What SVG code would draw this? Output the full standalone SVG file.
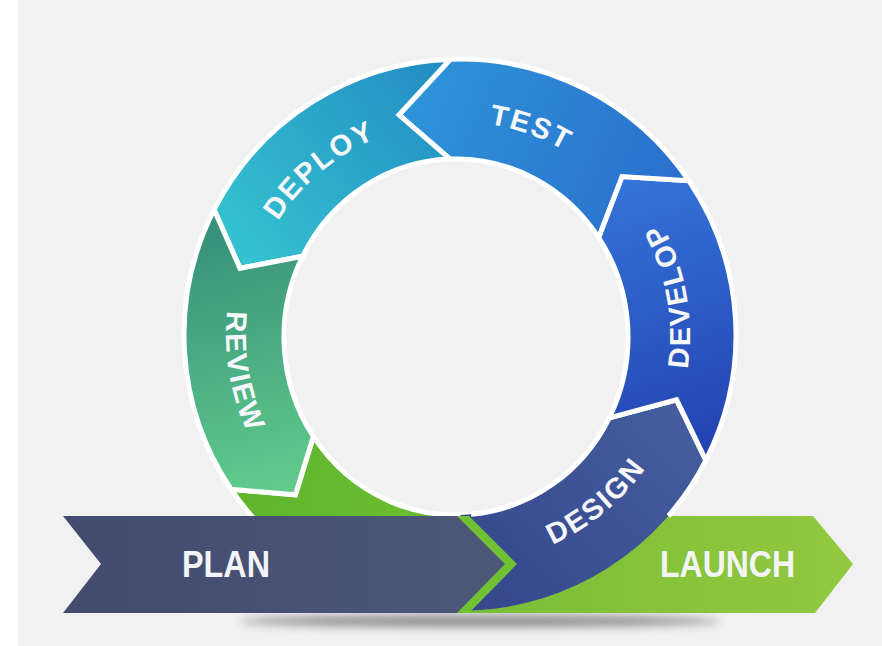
<svg xmlns="http://www.w3.org/2000/svg" width="882" height="646" viewBox="0 0 882 646">
<defs>
<style>
.seg{stroke:#ffffff;stroke-width:5;stroke-linejoin:miter}
.lbl{font-family:"Liberation Sans","DejaVu Sans",Arial,sans-serif;font-weight:bold;font-size:29px;fill:#f5f7fa;letter-spacing:2px}
.band{font-family:"Liberation Sans","DejaVu Sans",Arial,sans-serif;font-weight:bold;font-size:36px;fill:#f3f4f6}
</style>
<linearGradient id="gTest" gradientUnits="userSpaceOnUse" x1="400" y1="100" x2="690" y2="220"><stop offset="0" stop-color="#2e95d9"/><stop offset="1" stop-color="#2a6ccb"/></linearGradient>
<linearGradient id="gDeploy" gradientUnits="userSpaceOnUse" x1="440" y1="80" x2="230" y2="260"><stop offset="0" stop-color="#238fc4"/><stop offset="1" stop-color="#36c4d0"/></linearGradient>
<linearGradient id="gReview" gradientUnits="userSpaceOnUse" x1="220" y1="230" x2="290" y2="490"><stop offset="0" stop-color="#38917a"/><stop offset="1" stop-color="#61cc8c"/></linearGradient>
<linearGradient id="gDevelop" gradientUnits="userSpaceOnUse" x1="620" y1="190" x2="700" y2="450"><stop offset="0" stop-color="#3372d6"/><stop offset="1" stop-color="#2443b2"/></linearGradient>
<linearGradient id="gDesign" gradientUnits="userSpaceOnUse" x1="680" y1="420" x2="480" y2="600"><stop offset="0" stop-color="#435d9e"/><stop offset="1" stop-color="#36478c"/></linearGradient>
<linearGradient id="gPlan" gradientUnits="userSpaceOnUse" x1="63" y1="0" x2="505" y2="0"><stop offset="0" stop-color="#434b6e"/><stop offset="1" stop-color="#4d5879"/></linearGradient>
<linearGradient id="gGreen" gradientUnits="userSpaceOnUse" x1="240" y1="480" x2="480" y2="520"><stop offset="0" stop-color="#5fb52e"/><stop offset="1" stop-color="#6fc031"/></linearGradient>
<linearGradient id="gLaunch" gradientUnits="userSpaceOnUse" x1="460" y1="0" x2="853" y2="0"><stop offset="0" stop-color="#78bd36"/><stop offset="1" stop-color="#92c940"/></linearGradient>
<filter id="blur" x="-20%" y="-200%" width="140%" height="500%"><feGaussianBlur stdDeviation="5"/></filter>
<path id="pTest" d="M 383.1,135.6 A 213 213 0 0 1 641.3,226.6"/>
<path id="pDeploy" d="M 248.2,298 A 213 213 0 0 1 458,122"/>
<path id="pDevelop" d="M 659.7,449.6 A 232 232 0 0 0 605.9,156.2"/>
<path id="pReview" d="M 257.9,217.6 A 232 232 0 0 0 307.6,511.7"/>
<path id="pDesign" d="M 456.4,565 A 230 230 0 0 0 684.2,376.5"/>
</defs>

<rect x="0" y="0" width="882" height="646" fill="#ffffff"/>
<rect x="18" y="0" width="864" height="646" fill="#f1f1f1"/>

<ellipse cx="480" cy="621" rx="240" ry="6" fill="#7a7a7a" opacity="0.85" filter="url(#blur)"/>

<g id="node-launch">
<path class="seg" fill="url(#gGreen)" d="M 231.2,489.3 A 276 276 0 0 0 412.1,606.8 L 485.9,512.3 A 172 178 0 0 1 313.4,436.5 L 295.4,494.8 Z"/>
<polygon fill="url(#gLaunch)" points="455,516 813,516 853,564 815,613 455,613"/>
<text class="band" x="660" y="577" textLength="135" lengthAdjust="spacingAndGlyphs">LAUNCH</text>
</g>

<g id="node-design">
<path fill="url(#gDesign)" d="M 471,514.3 A 172 178 0 0 0 609.3,417.8 L 676.6,399.8 L 705.9,460.3 A 276 276 0 0 1 469.6,610.8 L 460,613 L 510,564 L 460,515 Z"/>
<path fill="none" stroke="#ffffff" stroke-width="5" d="M 471,514.3 A 172 178 0 0 0 609.3,417.8 L 676.6,399.8 L 705.9,460.3 A 276 276 0 0 1 668.4,516"/>
<text class="lbl"><textPath href="#pDesign" startOffset="50%" text-anchor="middle">DESIGN</textPath></text>
</g>

<g id="connectors">
<polygon fill="#72c033" points="457,516 469,516 517,564 469,613 457,613 505,564"/>
</g>

<g id="node-plan">
<polygon fill="url(#gPlan)" points="63,516 457,516 505,564 457,613 63,613 101,564"/>
<text class="band" x="182" y="577" textLength="88" lengthAdjust="spacingAndGlyphs">PLAN</text>
</g>

<g id="node-develop">
<path class="seg" fill="url(#gDevelop)" d="M 705.9,460.3 A 276 276 0 0 0 688.8,180.7 L 622,176.6 L 598.6,237.5 A 172 178 0 0 1 609.3,417.8 L 676.6,399.8 Z"/>
<text class="lbl"><textPath href="#pDevelop" startOffset="50%" text-anchor="middle">DEVELOP</textPath></text>
</g>

<g id="node-test">
<path class="seg" fill="url(#gTest)" d="M 688.8,180.7 A 276 276 0 0 0 450.4,59.2 L 399,114.8 L 450,159.1 A 172 178 0 0 1 598.6,237.5 L 622,176.6 Z"/>
<text class="lbl"><textPath href="#pTest" startOffset="50%" text-anchor="middle">TEST</textPath></text>
</g>

<g id="node-deploy">
<path class="seg" fill="url(#gDeploy)" d="M 450.4,59.2 A 276 276 0 0 0 214.1,209.7 L 240,268.3 L 302.7,256.2 A 172 178 0 0 1 450,159.1 L 399,114.8 Z"/>
<text class="lbl"><textPath href="#pDeploy" startOffset="50%" text-anchor="middle">DEPLOY</textPath></text>
</g>

<g id="node-review">
<path class="seg" fill="url(#gReview)" d="M 214.1,209.7 A 276 276 0 0 0 231.2,489.3 L 295.4,494.8 L 313.4,436.5 A 172 178 0 0 1 302.7,256.2 L 240,268.3 Z"/>
<text class="lbl"><textPath href="#pReview" startOffset="50%" text-anchor="middle">REVIEW</textPath></text>
</g>
</svg>
